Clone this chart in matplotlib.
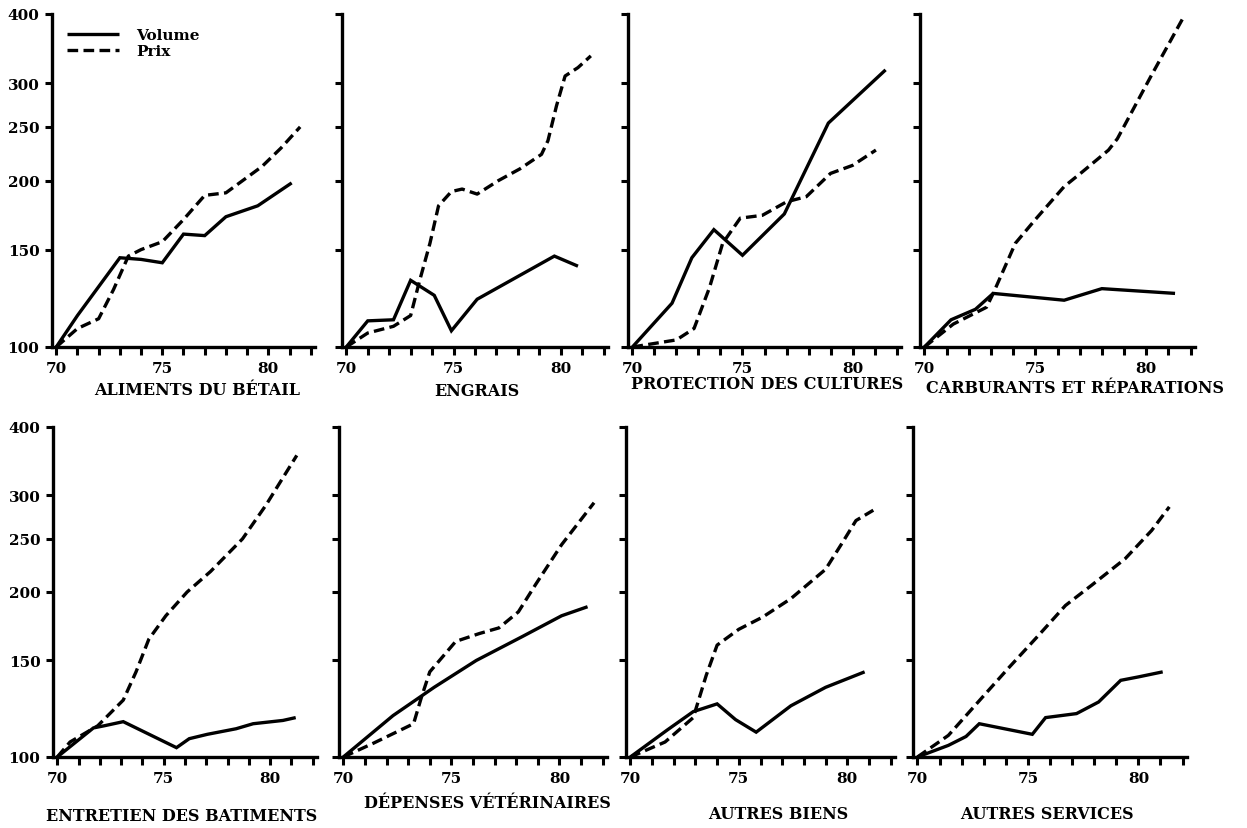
import matplotlib
matplotlib.use("Agg")
import matplotlib.pyplot as plt
from matplotlib.ticker import FixedLocator, FixedFormatter, NullLocator

# ---------------- data (index 1970 = 100, log scale) ----------------
aliments_vol_x = [70, 71, 73, 74, 75, 76, 77, 78, 79.5, 81.1]
aliments_vol_y = [100, 114, 145, 144, 142, 160, 159, 172, 180, 198]
aliments_prix_x = [70, 71, 72, 72.7, 73.4, 74, 75, 76, 77, 78, 79.7, 80.6, 81.5]
aliments_prix_y = [100, 108, 112.5, 127, 146, 150, 155, 170, 188, 190, 212, 229, 250]

engrais_vol_x = [70, 71, 72.2, 73, 74.1, 74.9, 76.1, 79.7, 80.8]
engrais_vol_y = [100, 111.5, 112, 132, 124, 107, 122, 146, 140]
engrais_prix_x = [70, 71, 72.2, 73, 73.4, 73.9, 74.3, 74.9, 75.4, 76.1, 77.1, 78.1, 79.1, 79.4, 79.8, 80.2, 80.8, 81.4]
engrais_prix_y = [100, 106, 109, 114, 131, 154, 180, 191, 193, 189, 200, 210, 223, 236, 273, 309, 320, 336]

protection_vol_x = [70, 71.8, 72.7, 73.7, 75.0, 76.9, 78.9, 81.5]
protection_vol_y = [100, 120, 145, 163, 146.5, 174, 254, 317]
protection_prix_x = [70, 72.0, 72.8, 73.5, 74.1, 74.9, 75.9, 77.0, 77.9, 79.0, 80.0, 81.06]
protection_prix_y = [100, 103, 108, 128, 154, 171, 173, 183, 187, 206, 213, 227]

carburants_vol_x = [70, 71.2, 72.3, 73.1, 76.3, 78.0, 81.3]
carburants_vol_y = [100, 112, 117, 125, 121.5, 127.5, 125]
carburants_prix_x = [70, 71.3, 72.8, 73.1, 74.1, 75.0, 76.3, 77.1, 78.3, 78.7, 80.2, 81.7]
carburants_prix_y = [100, 110, 118, 125, 154, 170, 195, 207, 227, 238, 308, 396]

entretien_vol_x = [70, 71.7, 72.2, 73.1, 75.6, 76.2, 77.05, 78.4, 79.2, 80.6, 81.2]
entretien_vol_y = [100, 113, 114, 116, 104, 108, 110, 112.6, 115, 116.6, 118]
entretien_prix_x = [70, 70.6, 71.9, 73.1, 73.7, 74.3, 75.1, 76.1, 77.2, 78.7, 79.8, 81.25]
entretien_prix_y = [100, 106.5, 114, 127, 143, 164, 181, 200, 218, 250, 288, 355]

veto_vol_x = [70, 72.3, 74.2, 76.15, 78.3, 80.1, 81.3]
veto_vol_y = [100, 119, 134, 150, 166, 181, 188]
veto_prix_x = [70, 71.4, 73.25, 73.6, 74.0, 75.2, 76.3, 77.2, 78.1, 78.9, 80.1, 81.6]
veto_prix_y = [100, 106, 115, 128, 143, 162.5, 168, 172, 184, 206.5, 244, 291]

biens_vol_x = [70, 71.7, 72.9, 74.0, 74.85, 75.8, 77.4, 79.0, 80.8]
biens_vol_y = [100, 112, 121, 125, 117, 111, 124, 134, 143]
biens_prix_x = [70, 71.6, 72.9, 73.5, 74.0, 75.0, 76.1, 77.4, 79.0, 79.8, 80.4, 81.2]
biens_prix_y = [100, 106.5, 118, 141, 160, 171, 180, 194.5, 220, 247, 270, 282]

services_vol_x = [70, 71.4, 72.2, 72.8, 75.2, 75.8, 77.2, 78.2, 79.2, 80.0, 81.1]
services_vol_y = [100, 105, 109, 115, 110, 118, 120, 126, 138, 140, 143]
services_prix_x = [70, 71.4, 72.9, 74.1, 75.5, 76.7, 77.9, 79.4, 80.6, 81.4]
services_prix_y = [100, 109.5, 128, 145, 167, 189, 206, 230, 259, 286]

titles = ["ALIMENTS DU BÉTAIL", "ENGRAIS", "PROTECTION DES CULTURES",
          "CARBURANTS ET RÉPARATIONS", "ENTRETIEN DES BATIMENTS",
          "DÉPENSES VÉTÉRINAIRES", "AUTRES BIENS", "AUTRES SERVICES"]
series = [
    (aliments_vol_x, aliments_vol_y, aliments_prix_x, aliments_prix_y),
    (engrais_vol_x, engrais_vol_y, engrais_prix_x, engrais_prix_y),
    (protection_vol_x, protection_vol_y, protection_prix_x, protection_prix_y),
    (carburants_vol_x, carburants_vol_y, carburants_prix_x, carburants_prix_y),
    (entretien_vol_x, entretien_vol_y, entretien_prix_x, entretien_prix_y),
    (veto_vol_x, veto_vol_y, veto_prix_x, veto_prix_y),
    (biens_vol_x, biens_vol_y, biens_prix_x, biens_prix_y),
    (services_vol_x, services_vol_y, services_prix_x, services_prix_y),
]
y_ticks = [100, 150, 200, 250, 300, 400]
y_ticklabels = ["100", "150", "200", "250", "300", "400"]
x_ticks = list(range(70, 83))
x_ticklabels = ["70", "", "", "", "", "75", "", "", "", "", "80", "", ""]
legend_labels = ["Volume", "Prix"]

# ---------------- layout (pixel boxes) ----------------
W, H = 1247, 829
DPI = 100
plt.rcParams["font.family"] = ["DejaVu Serif"]
plt.rcParams["font.weight"] = "bold"

fig = plt.figure(figsize=(W / DPI, H / DPI), dpi=DPI)
fig.patch.set_facecolor("white")

# (left, right, top, bottom) in pixels
boxes = [
    (52, 315, 15, 348), (342, 608, 15, 348), (628, 901, 15, 348), (920, 1195, 15, 348),
    (53, 317, 428, 758), (339, 607, 428, 758), (626, 895, 428, 758), (913, 1187, 428, 758),
]
# title offsets (dx px, dy px below axis)
title_off = [(14, 43), (2, 44), (3, 37), (17, 41), (-3, 59), (14, 46), (18, 57), (-3, 57)]

LW = 2.4
DASH = (0, (3.2, 1.6))

for i, (box, title, (vx, vy, px_, py_)) in enumerate(zip(boxes, titles, series)):
    l, r, t, b = box
    ax = fig.add_axes([l / W, 1 - b / H, (r - l) / W, (b - t) / H])
    ax.set_yscale("log")
    ax.set_xlim(69.8, 82.2)
    ax.set_ylim(100, 400)
    lv, = ax.plot(vx, vy, color="black", lw=LW, solid_capstyle="butt",
                  solid_joinstyle="miter", clip_on=False)
    lp, = ax.plot(px_, py_, color="black", lw=LW, linestyle=DASH,
                  dash_capstyle="butt", clip_on=False)
    for s in ["top", "right"]:
        ax.spines[s].set_visible(False)
    for s in ["left", "bottom"]:
        ax.spines[s].set_linewidth(2.4)
    ax.yaxis.set_major_locator(FixedLocator(y_ticks))
    ax.yaxis.set_minor_locator(NullLocator())
    ax.xaxis.set_major_locator(FixedLocator(x_ticks))
    ax.xaxis.set_major_formatter(FixedFormatter(x_ticklabels))
    if i in (0, 4):
        ax.yaxis.set_major_formatter(FixedFormatter(y_ticklabels))
    else:
        ax.yaxis.set_major_formatter(FixedFormatter([""] * len(y_ticks)))
    ax.tick_params(axis="both", which="major", direction="out", width=2.2,
                   length=5, labelsize=11, pad=4)
    ax.tick_params(axis="x", length=6, pad=4)
    for lab in ax.get_xticklabels() + ax.get_yticklabels():
        lab.set_fontweight("bold")
    dx, dy = title_off[i]
    ax.annotate(title, xy=(0.5, 0), xycoords="axes fraction",
                xytext=(dx * 0.72, -dy * 0.72), textcoords="offset points",
                ha="center", va="center", fontsize=11.5, fontweight="bold")
    if i == 0:
        ax.legend([lv, lp], legend_labels, loc="upper left",
                  bbox_to_anchor=(0.035, 0.975), frameon=False,
                  handlelength=3.4, handletextpad=1.1, labelspacing=0.1,
                  borderaxespad=0.0, prop={"weight": "bold", "size": 11})

fig.savefig("out.png", dpi=DPI, facecolor="white")
